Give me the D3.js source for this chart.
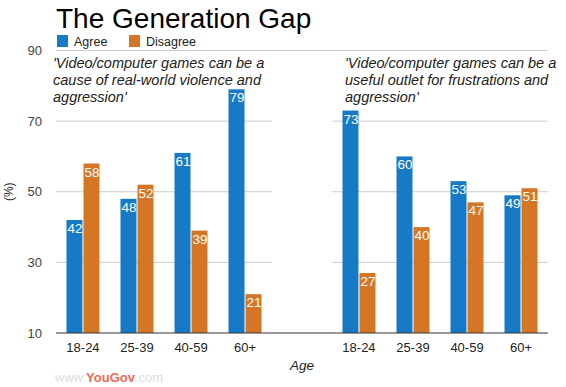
<!DOCTYPE html>
<html>
<head>
<meta charset="utf-8">
<script src="https://cdn.jsdelivr.net/npm/d3@7"></script>
<style>
  body { margin: 0; background: #fff; }
  text { font-family: Arial, "Liberation Sans", sans-serif; }
</style>
</head>
<body>
<div id="chart"></div>
<script>
// data
const panels = ["violence", "outlet"];
const panelTitles = [
  ["'Video/computer games can be a", "cause of real-world violence and", "aggression'"],
  ["'Video/computer games can be a", "useful outlet for frustrations and", "aggression'"]
];
const ages = ["18-24", "25-39", "40-59", "60+"];
const series = ["Agree", "Disagree"];
const agreeValues = [[42, 48, 61, 79], [73, 60, 53, 49]];
const disagreeValues = [[58, 52, 39, 21], [27, 40, 47, 51]];
const yTicks = [10, 30, 50, 70, 90];

const width = 566, height = 387;
const colors = {"Agree": "#167ac6", "Disagree": "#d57626"};

let svg = d3.select("#chart")
    .append("svg")
    .attr("width", width)
    .attr("height", height);

// scales
let y = d3.scaleLinear()
    .domain([10, 90])
    .range([333, 50.5]);

let xPanel = d3.scaleBand()
    .domain(panels)
    .range([56, 548])
    .paddingInner(0.2174);

let xAge = d3.scaleBand()
    .domain(ages)
    .range([0, xPanel.bandwidth()])
    .paddingInner(0.389)
    .paddingOuter(0.194);

let xSeries = d3.scaleBand()
    .domain(series)
    .range([0, xAge.bandwidth()])
    .paddingInner(0.06);

// title
svg.append("text")
    .attr("x", 56)
    .attr("y", 28)
    .style("font-size", "28px")
    .style("fill", "#000")
    .text("The Generation Gap");

// legend
let legend = svg.append("g");
let legendX = [57, 129];
series.forEach(function(s, i) {
    legend.append("rect")
        .attr("x", legendX[i])
        .attr("y", 35)
        .attr("width", 11)
        .attr("height", 12)
        .attr("fill", colors[s]);
    legend.append("text")
        .attr("x", legendX[i] + 17)
        .attr("y", 46)
        .style("font-size", "12.5px")
        .style("fill", "#222")
        .text(s);
});

// gridlines: top line spans everything, the rest stop at each panel
svg.append("line")
    .attr("x1", 56).attr("x2", 548)
    .attr("y1", y(90)).attr("y2", y(90))
    .attr("stroke", "#ccc");

panels.forEach(function(p) {
    svg.append("g")
        .selectAll("line")
        .data(yTicks.filter(t => t > 10 && t < 90))
        .enter()
        .append("line")
        .attr("x1", xPanel(p))
        .attr("x2", xPanel(p) + xPanel.bandwidth())
        .attr("y1", d => y(d))
        .attr("y2", d => y(d))
        .attr("stroke", "#ccc");
});

// y axis labels
let yAxis = svg.append("g")
    .attr("transform", "translate(56,0)")
    .call(d3.axisLeft(y).tickValues(yTicks).tickSize(0).tickPadding(14));
yAxis.select(".domain").remove();
yAxis.selectAll("text")
    .style("font-size", "13px")
    .style("font-family", "Arial, 'Liberation Sans', sans-serif")
    .style("fill", "#444");

svg.append("text")
    .attr("transform", `translate(13, ${y(50)}) rotate(-90)`)
    .style("text-anchor", "middle")
    .style("font-size", "12px")
    .style("fill", "#222")
    .text("(%)");

// bars
panels.forEach(function(p, pi) {
    let rows = ages.map(function(a, i) {
        return {age: a, values: [
            {key: "Agree", value: agreeValues[pi][i]},
            {key: "Disagree", value: disagreeValues[pi][i]}
        ]};
    });

    let g = svg.append("g")
        .attr("transform", `translate(${xPanel(p)}, 0)`);

    let groups = g.selectAll("g.group")
        .data(rows)
        .enter()
        .append("g")
        .attr("class", "group")
        .attr("transform", d => `translate(${xAge(d.age)}, 0)`);

    groups.selectAll("rect")
        .data(d => d.values)
        .enter()
        .append("rect")
        .attr("x", d => xSeries(d.key))
        .attr("y", d => y(d.value))
        .attr("width", xSeries.bandwidth())
        .attr("height", d => y(10) - y(d.value))
        .attr("fill", d => colors[d.key]);

    groups.selectAll("text")
        .data(d => d.values)
        .enter()
        .append("text")
        .attr("x", d => xSeries(d.key) + 1)
        .attr("y", d => y(d.value) + 13)
        .style("font-size", "13.5px")
        .style("fill", "#fff")
        .text(d => d.value);

    // age labels
    g.selectAll("text.age")
        .data(ages)
        .enter()
        .append("text")
        .attr("class", "age")
        .attr("x", d => xAge(d) + xAge.bandwidth() / 2)
        .attr("y", 352)
        .style("text-anchor", "middle")
        .style("font-size", "13px")
        .style("fill", "#222")
        .text(d => d);

    // panel annotation
    let note = svg.append("text")
        .attr("x", pi === 0 ? 53 : 345)
        .attr("y", 68)
        .style("font-size", "14.5px")
        .style("font-style", "italic")
        .style("fill", "#222");
    note.selectAll("tspan")
        .data(panelTitles[pi])
        .enter()
        .append("tspan")
        .attr("x", pi === 0 ? 53 : 345)
        .attr("dy", (d, i) => i === 0 ? 0 : 17)
        .text(d => d);
});

// baseline
svg.append("line")
    .attr("x1", 56).attr("x2", 548)
    .attr("y1", y(10)).attr("y2", y(10))
    .attr("stroke", "#333");

svg.append("text")
    .attr("x", 302)
    .attr("y", 370)
    .style("text-anchor", "middle")
    .style("font-size", "13.5px")
    .style("font-style", "italic")
    .style("fill", "#222")
    .text("Age");

// watermark (faded, near the bottom edge)
let wm = svg.append("text")
    .attr("x", 55)
    .attr("y", 382)
    .style("font-size", "13px");
wm.append("tspan").style("fill", "#ddd").text("www.");
wm.append("tspan").style("fill", "#ef6a55").style("font-weight", "bold").text("YouGov");
wm.append("tspan").style("fill", "#ddd").text(".com");
</script>
</body>
</html>
